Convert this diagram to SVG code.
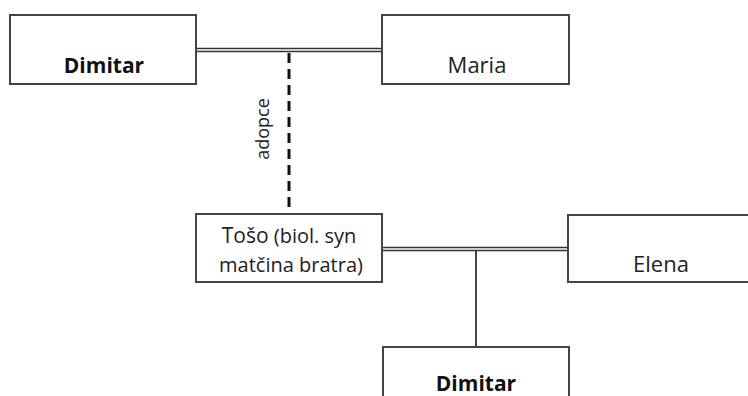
<svg xmlns="http://www.w3.org/2000/svg" width="748" height="396" viewBox="0 0 748 396">
<style>
.box{fill:#fff;stroke:#444;stroke-width:2}
.t{font-family:"Open Sans","Liberation Sans",sans-serif;font-size:22px;fill:#222;text-anchor:middle}
.b{font-weight:bold;fill:#111;font-size:21px}
.s{font-size:20px}
.a{font-size:18px}
.dl{stroke:#333;stroke-width:1.5;fill:none}
.sl{stroke:#444;stroke-width:2;fill:none}
.dash{stroke:#111;stroke-width:3;stroke-dasharray:10,6;fill:none}
</style>
<rect width="748" height="396" fill="#fff"/>
<g id="connectors">
<line class="dl" x1="196" y1="48.5" x2="382" y2="48.5"/>
<line class="dl" x1="196" y1="51.5" x2="382" y2="51.5"/>
<line class="dash" x1="289" y1="53" x2="289" y2="214"/>
<text class="t a" transform="translate(269,129) rotate(-90)">adopce</text>
<line class="dl" x1="382" y1="247.5" x2="568" y2="247.5"/>
<line class="dl" x1="382" y1="250.5" x2="568" y2="250.5"/>
<line class="sl" x1="476" y1="251" x2="476" y2="347"/>
</g>
<g id="dimitar1">
<rect class="box" x="10" y="15" width="186" height="69"/>
<text class="t b" x="104" y="73">Dimitar</text>
</g>
<g id="maria">
<rect class="box" x="382" y="15" width="187" height="69"/>
<text class="t" x="477" y="73">Maria</text>
</g>
<g id="toso">
<rect class="box" x="196" y="214" width="186" height="68"/>
<text class="t s" x="289" y="243"><tspan style="font-size:21px">Tošo</tspan> (biol. syn</text>
<text class="t s" x="291" y="272">matčina bratra)</text>
</g>
<g id="elena">
<rect class="box" x="568" y="215" width="190" height="67"/>
<text class="t" x="661" y="272">Elena</text>
</g>
<g id="dimitar2">
<rect class="box" x="383" y="347" width="186" height="60"/>
<text class="t b" x="476" y="391">Dimitar</text>
</g>
</svg>
